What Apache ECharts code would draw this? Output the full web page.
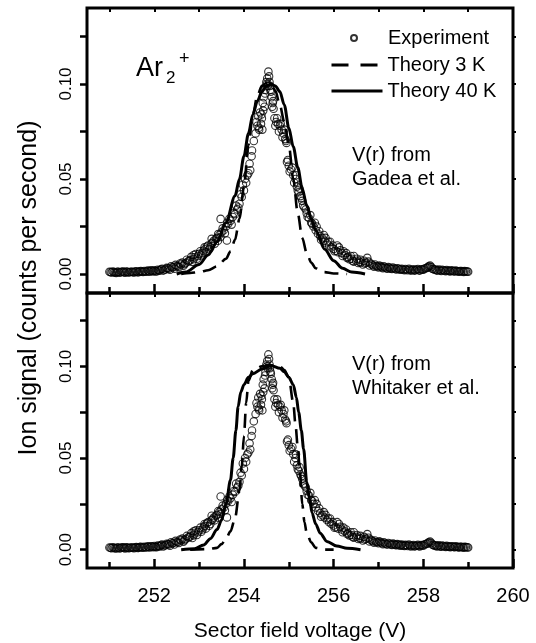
<!DOCTYPE html>
<html>
<head>
<meta charset="utf-8">
<script src="https://cdn.jsdelivr.net/npm/echarts@6/dist/echarts.min.js"></script>
<style>
  html, body { margin: 0; padding: 0; background: #fff; }
  #chart { width: 536px; height: 643px; }
</style>
</head>
<body>
<div id="chart"></div>
<script>
const FONT = '"Liberation Sans", Arial, Helvetica, sans-serif';

// tick positions
const xMajor = [252, 254, 256, 258, 260];
const xMinor = [251, 253, 255, 257, 259];
const xTopTicks = [251, 252, 253, 254, 255, 256, 257, 258, 259];
const yMajor = [0, 0.05, 0.1];
const yTicks = [0, 0.025, 0.05, 0.075, 0.1, 0.125];

// experiment (same data in both panels), first pass
const expV = [
  251.00, 251.05, 251.10, 251.15, 251.20, 251.25, 251.30, 251.35, 251.40, 251.45,
  251.50, 251.55, 251.60, 251.65, 251.70, 251.75, 251.80, 251.85, 251.90, 251.95,
  252.00, 252.05, 252.10, 252.15, 252.20, 252.25, 252.30, 252.35, 252.40, 252.45,
  252.50, 252.55, 252.60, 252.65, 252.70, 252.75, 252.80, 252.85, 252.88, 252.90,
  252.95, 253.00, 253.05, 253.10, 253.12, 253.15, 253.20, 253.25, 253.28, 253.30,
  253.35, 253.40, 253.42, 253.45, 253.48, 253.50, 253.55, 253.60, 253.62, 253.65,
  253.70, 253.75, 253.80, 253.85, 253.90, 253.95, 254.00, 254.05, 254.10, 254.14,
  254.17, 254.18, 254.22, 254.26, 254.30, 254.32, 254.34, 254.36, 254.38, 254.40,
  254.42, 254.44, 254.46, 254.48, 254.50, 254.52, 254.545, 254.56, 254.58, 254.60,
  254.62, 254.64, 254.66, 254.68, 254.72, 254.76, 254.80, 254.84, 254.88, 254.92,
  254.95, 254.96, 255.00, 255.05, 255.10, 255.15, 255.18, 255.22, 255.26, 255.30,
  255.35, 255.40, 255.45, 255.50, 255.55, 255.60, 255.62, 255.65, 255.70, 255.75,
  255.78, 255.80, 255.85, 255.90, 255.92, 255.95, 256.00, 256.05, 256.08, 256.10,
  256.15, 256.20, 256.22, 256.25, 256.30, 256.35, 256.40, 256.45, 256.45, 256.50,
  256.55, 256.60, 256.60, 256.65, 256.70, 256.75, 256.80, 256.85, 256.90, 256.95,
  257.00, 257.05, 257.10, 257.15, 257.20, 257.25, 257.30, 257.35, 257.40, 257.45,
  257.50, 257.55, 257.60, 257.65, 257.70, 257.75, 257.80, 257.85, 257.90, 257.95,
  258.00, 258.05, 258.10, 258.15, 258.20, 258.25, 258.30, 258.35, 258.40, 258.45,
  258.50, 258.55, 258.60, 258.65, 258.70, 258.75, 258.80, 258.85, 258.90, 258.95,
  259.00
];
const expS = [
  0.0012, 0.0008, 0.0010, 0.0006, 0.0012, 0.0009, 0.0013, 0.0007, 0.0011, 0.0009,
  0.0012, 0.0008, 0.0014, 0.0010, 0.0016, 0.0011, 0.0013, 0.0018, 0.0012, 0.0017,
  0.0020, 0.0014, 0.0019, 0.0025, 0.0018, 0.0024, 0.0030, 0.0022, 0.0034, 0.0028,
  0.0042, 0.0036, 0.0050, 0.0044, 0.0058, 0.0066, 0.0072, 0.0064, 0.0100, 0.0088,
  0.0080, 0.0106, 0.0098, 0.0122, 0.0140, 0.0115, 0.0150, 0.0140, 0.0185, 0.0165,
  0.0160, 0.0190, 0.0175, 0.0205, 0.0290, 0.0220, 0.0230, 0.0250, 0.0176, 0.0265,
  0.0280, 0.0300, 0.0315, 0.0340, 0.0370, 0.0405, 0.0440, 0.0480, 0.0530, 0.0546,
  0.0620, 0.0650, 0.0700, 0.0740, 0.0780, 0.0830, 0.0760, 0.0850, 0.0790, 0.0820,
  0.0900, 0.0930, 0.0880, 0.0970, 0.1010, 0.1030, 0.1065, 0.1040, 0.0990, 0.0960,
  0.0930, 0.0900, 0.0870, 0.0820, 0.0800, 0.0790, 0.0780, 0.0760, 0.0740, 0.0710,
  0.0690, 0.0590, 0.0570, 0.0550, 0.0520, 0.0500, 0.0460, 0.0430, 0.0410, 0.0385,
  0.0350, 0.0320, 0.0295, 0.0270, 0.0250, 0.0230, 0.0250, 0.0212, 0.0200, 0.0188,
  0.0205, 0.0175, 0.0162, 0.0150, 0.0170, 0.0140, 0.0132, 0.0122, 0.0150, 0.0115,
  0.0125, 0.0095, 0.0120, 0.0100, 0.0085, 0.0078, 0.0080, 0.0065, 0.0095, 0.0070,
  0.0058, 0.0060, 0.0075, 0.0050, 0.0055, 0.0085, 0.0045, 0.0050, 0.0038, 0.0042,
  0.0035, 0.0040, 0.0030, 0.0034, 0.0028, 0.0032, 0.0026, 0.0030, 0.0024, 0.0028,
  0.0025, 0.0022, 0.0026, 0.0020, 0.0024, 0.0021, 0.0018, 0.0023, 0.0020, 0.0025,
  0.0022, 0.0030, 0.0035, 0.0044, 0.0028, 0.0022, 0.0018, 0.0024, 0.0016, 0.0020,
  0.0015, 0.0018, 0.0014, 0.0017, 0.0013, 0.0016, 0.0012, 0.0015, 0.0011, 0.0014,
  0.0012
];
// experiment, second pass (fills the dense band)
const expV2 = [
  251.025, 251.075, 251.125, 251.175, 251.225, 251.275, 251.325, 251.375, 251.425, 251.475,
  251.525, 251.575, 251.625, 251.675, 251.725, 251.775, 251.825, 251.875, 251.925, 251.975,
  252.025, 252.075, 252.125, 252.175, 252.225, 252.275, 252.325, 252.375, 252.425, 252.475,
  252.525, 252.575, 252.625, 252.675, 252.725, 252.775, 252.825, 252.875, 252.925, 252.975,
  253.025, 253.075, 253.125, 253.175, 253.225, 253.275, 253.325, 253.375, 253.425, 253.475,
  253.525, 253.575, 253.625, 253.675, 253.725, 253.775, 253.825, 253.875, 253.925, 253.975,
  254.025, 254.075, 254.125,
  254.28, 254.33, 254.39, 254.41, 254.43, 254.47, 254.51, 254.53, 254.57, 254.59,
  254.63, 254.65, 254.70, 254.74, 254.78, 254.82, 254.86, 254.90, 254.94, 254.98,
  255.02, 255.08, 255.12, 255.16, 255.20, 255.24, 255.28, 255.32, 255.38, 255.42,
  255.48, 255.52, 255.58, 255.68, 255.72, 255.82, 255.88, 255.98, 256.02, 256.12,
  256.18, 256.28, 256.32, 256.38, 256.42, 256.52, 256.58, 256.68, 256.72, 256.78,
  256.82, 256.88, 256.92, 256.98, 257.02, 257.08, 257.12, 257.18, 257.22, 257.28,
  257.32, 257.38, 257.42, 257.48, 257.52, 257.58, 257.62, 257.68, 257.72, 257.78,
  257.82, 257.88, 257.92, 257.98, 258.02, 258.08, 258.12, 258.18, 258.22, 258.28,
  258.32, 258.38, 258.42, 258.48, 258.52, 258.58, 258.62, 258.68, 258.72, 258.78,
  258.82, 258.88, 258.92, 258.98
];
const expS2 = [
  0.0010, 0.0013, 0.0008, 0.0011, 0.0007, 0.0012, 0.0010, 0.0013, 0.0008, 0.0012,
  0.0010, 0.0013, 0.0009, 0.0014, 0.0012, 0.0016, 0.0012, 0.0015, 0.0019, 0.0014,
  0.0015, 0.0022, 0.0018, 0.0028, 0.0024, 0.0032, 0.0028, 0.0040, 0.0036, 0.0048,
  0.0040, 0.0055, 0.0060, 0.0052, 0.0075, 0.0068, 0.0090, 0.0078, 0.0105, 0.0095,
  0.0120, 0.0110, 0.0130, 0.0145, 0.0130, 0.0160, 0.0175, 0.0185, 0.0210, 0.0195,
  0.0240, 0.0215, 0.0270, 0.0290, 0.0260, 0.0320, 0.0360, 0.0350, 0.0420, 0.0470,
  0.0500, 0.0520, 0.0580,
  0.0800, 0.0770, 0.0840, 0.0760, 0.0860, 0.0950, 0.1000, 0.0990, 0.1010, 0.0970,
  0.0880, 0.0910, 0.0780, 0.0820, 0.0750, 0.0790, 0.0720, 0.0760, 0.0700, 0.0600,
  0.0540, 0.0560, 0.0480, 0.0520, 0.0440, 0.0450, 0.0400, 0.0360, 0.0340, 0.0300,
  0.0310, 0.0265, 0.0270, 0.0225, 0.0180, 0.0190, 0.0170, 0.0150, 0.0120, 0.0140,
  0.0110, 0.0110, 0.0090, 0.0095, 0.0070, 0.0080, 0.0065, 0.0070, 0.0060, 0.0065,
  0.0055, 0.0045, 0.0050, 0.0040, 0.0045, 0.0035, 0.0040, 0.0030, 0.0036, 0.0028,
  0.0034, 0.0026, 0.0030, 0.0022, 0.0028, 0.0020, 0.0024, 0.0028, 0.0018, 0.0025,
  0.0020, 0.0026, 0.0018, 0.0024, 0.0028, 0.0032, 0.0040, 0.0036, 0.0026, 0.0024,
  0.0020, 0.0018, 0.0022, 0.0017, 0.0021, 0.0016, 0.0019, 0.0015, 0.0018, 0.0014,
  0.0016, 0.0013, 0.0015, 0.0013
];

// upper panel: V(r) from Gadea et al.
const gadea3V  = [252.6, 252.8, 253.0, 253.2, 253.4, 253.6, 253.7, 253.8, 253.9, 254.0,
                  254.1, 254.2, 254.3, 254.4, 254.5, 254.6, 254.7, 254.8, 254.9, 255.0,
                  255.1, 255.2, 255.3, 255.4, 255.5, 255.6, 255.8, 256.0, 256.3];
const gadea3S  = [0.0000, 0.0005, 0.0010, 0.0020, 0.0040, 0.0080, 0.0120, 0.0180, 0.0290, 0.0460,
                  0.0680, 0.0840, 0.0940, 0.0990, 0.1005, 0.1000, 0.0965, 0.0890, 0.0800, 0.0680,
                  0.0500, 0.0320, 0.0190, 0.0110, 0.0060, 0.0030, 0.0010, 0.0003, 0.0000];
const gadea40V = [252.5, 252.7, 253.0, 253.2, 253.4, 253.6, 253.8, 253.9, 254.0, 254.1,
                  254.2, 254.3, 254.4, 254.5, 254.6, 254.7, 254.8, 254.9, 255.0, 255.1,
                  255.2, 255.3, 255.4, 255.5, 255.6, 255.8, 256.0, 256.2, 256.4, 256.7];
const gadea40S = [0.0000, 0.0010, 0.0050, 0.0100, 0.0170, 0.0270, 0.0410, 0.0500, 0.0620, 0.0740,
                  0.0840, 0.0910, 0.0960, 0.0990, 0.1000, 0.0990, 0.0960, 0.0890, 0.0770, 0.0670,
                  0.0560, 0.0450, 0.0360, 0.0290, 0.0230, 0.0130, 0.0070, 0.0030, 0.0010, 0.0000];

// lower panel: V(r) from Whitaker et al.
const whit3V  = [252.8, 253.2, 253.4, 253.5, 253.6, 253.7, 253.8, 253.9, 253.95, 254.0,
                 254.05, 254.1, 254.2, 254.4, 254.6, 254.8, 254.9, 255.0, 255.1, 255.15,
                 255.2, 255.25, 255.3, 255.35, 255.4, 255.5, 255.6, 255.8, 256.0];
const whit3S  = [0.0000, 0.0003, 0.0010, 0.0030, 0.0060, 0.0100, 0.0170, 0.0320, 0.0450, 0.0620,
                 0.0800, 0.0920, 0.0980, 0.1000, 0.1005, 0.1000, 0.0980, 0.0940, 0.0800, 0.0680,
                 0.0560, 0.0420, 0.0250, 0.0150, 0.0090, 0.0040, 0.0010, 0.0000, 0.0000];
const whit40V = [252.6, 252.9, 253.1, 253.25, 253.4, 253.5, 253.6, 253.7, 253.76, 253.82,
                 253.87, 253.93, 254.0, 254.1, 254.2, 254.4, 254.6, 254.8, 254.9, 255.0,
                 255.1, 255.17, 255.22, 255.28, 255.33, 255.4, 255.46, 255.52, 255.6, 255.7,
                 255.85, 256.07, 256.3, 256.6];
const whit40S = [0.0000, 0.0005, 0.0025, 0.0060, 0.0110, 0.0160, 0.0250, 0.0380, 0.0500, 0.0650,
                 0.0780, 0.0860, 0.0900, 0.0940, 0.0960, 0.0985, 0.1005, 0.0990, 0.0970, 0.0940,
                 0.0900, 0.0830, 0.0750, 0.0650, 0.0550, 0.0370, 0.0280, 0.0200, 0.0140, 0.0090,
                 0.0045, 0.0020, 0.0008, 0.0000];

const zip = (a, b) => a.map((v, i) => [v, b[i]]);
const expData = zip(expV, expS).concat(zip(expV2, expS2));

const black = '#000';
const tickStyle = { color: black, width: 2.5 };

function xAxes(grid, showLabels) {
  const base = {
    gridIndex: grid, type: 'value', min: 250.5, max: 260,
    axisLine: { show: false, onZero: false }, splitLine: { show: false }
  };
  return [
    Object.assign({}, base, {
      position: 'bottom',
      axisTick: { inside: true, length: 9, customValues: xMajor, lineStyle: tickStyle },
      axisLabel: { show: showLabels, customValues: xMajor, margin: 18, color: black, fontSize: 20, fontFamily: FONT },
      name: showLabels ? 'Sector field voltage (V)' : '',
      nameLocation: 'middle', nameGap: 53,
      nameTextStyle: { color: black, fontSize: 21, fontFamily: FONT }
    }),
    Object.assign({}, base, {
      position: 'bottom',
      axisTick: { inside: true, length: 6, customValues: xMinor, lineStyle: tickStyle },
      axisLabel: { show: false }
    }),
    Object.assign({}, base, {
      position: 'top',
      axisTick: { inside: true, length: 4, customValues: xTopTicks, lineStyle: { color: black, width: 2 } },
      axisLabel: { show: false }
    })
  ];
}

function yAxes(grid) {
  const base = {
    gridIndex: grid, type: 'value', min: -0.01, max: 0.14,
    axisLine: { show: false, onZero: false }, splitLine: { show: false }
  };
  return [
    Object.assign({}, base, {
      position: 'left',
      axisTick: { inside: false, length: 7, customValues: yTicks, lineStyle: tickStyle },
      axisLabel: {
        rotate: 90, margin: 12, customValues: yMajor,
        formatter: v => v.toFixed(2), color: black, fontSize: 17, fontFamily: FONT
      }
    }),
    Object.assign({}, base, {
      position: 'right',
      axisTick: { inside: false, length: 3, customValues: yTicks, lineStyle: { color: black, width: 2 } },
      axisLabel: { show: false }
    })
  ];
}

function panelSeries(grid, t3V, t3S, t40V, t40S) {
  const xi = grid * 3, yi = grid * 2;
  return [
    {
      type: 'line', name: 'Theory 3 K', xAxisIndex: xi, yAxisIndex: yi,
      data: zip(t3V, t3S), symbol: 'none', smooth: 0.3, smoothMonotone: 'x',
      lineStyle: { color: black, width: 2.6, type: [14, 8] }, itemStyle: { color: black }
    },
    {
      type: 'line', name: 'Theory 40 K', xAxisIndex: xi, yAxisIndex: yi,
      data: zip(t40V, t40S), symbol: 'none', smooth: 0.3, smoothMonotone: 'x',
      lineStyle: { color: black, width: 3 }, itemStyle: { color: black }
    },
    {
      type: 'scatter', name: 'Experiment', xAxisIndex: xi, yAxisIndex: yi,
      data: expData, symbol: 'circle', symbolSize: 7.5,
      itemStyle: { color: 'rgba(0,0,0,0)', borderColor: black, borderWidth: 1.1 }
    }
  ];
}

function label(text, x, y, size, extra) {
  return {
    type: 'text', x: x, y: y, rotation: (extra && extra.rotation) || 0,
    style: {
      text: text, fill: black, font: size + 'px ' + FONT,
      textAlign: (extra && extra.align) || 'left', align: (extra && extra.align) || 'left',
      textVerticalAlign: 'middle', verticalAlign: 'middle'
    }
  };
}

const legendText = { color: black, fontSize: 20, fontFamily: FONT };
const hiddenMark = { color: 'rgba(0,0,0,0)', borderColor: 'rgba(0,0,0,0)', borderWidth: 0, opacity: 0 };

const chart = echarts.init(document.getElementById('chart'), null, { renderer: 'canvas' });
chart.setOption({
  animation: false,
  backgroundColor: '#fff',
  grid: [
    { left: 87, top: 8, width: 426, height: 285, show: true, borderColor: black, borderWidth: 3 },
    { left: 87, top: 293, width: 426, height: 284, show: true, borderColor: black, borderWidth: 3 }
  ],
  xAxis: xAxes(0, false).concat(xAxes(1, true)),
  yAxis: yAxes(0).concat(yAxes(1)),
  legend: [
    {
      selectedMode: false, orient: 'vertical', left: 350, top: 28, padding: 0,
      itemWidth: 6, itemHeight: 6, icon: 'circle',
      textStyle: Object.assign({ padding: [0, 0, 0, 26] }, legendText),
      data: ['Experiment']
    },
    {
      selectedMode: false, orient: 'vertical', left: 330, top: 55, padding: 0,
      itemWidth: 51, itemHeight: 14, itemGap: 6, textStyle: legendText,
      data: [
        { name: 'Theory 3 K', lineStyle: { type: [17, 12], width: 3 }, itemStyle: hiddenMark },
        { name: 'Theory 40 K', lineStyle: { width: 3 }, itemStyle: hiddenMark }
      ]
    }
  ],
  graphic: [
    label('Ion signal (counts per second)', 29, 288, 25, { rotation: Math.PI / 2, align: 'center' }),
    label('Ar', 136, 69, 27),
    label('2', 166, 78, 17),
    label('+', 179, 59, 18),
    label('V(r) from', 352, 155, 20),
    label('Gadea et al.', 352, 179, 20),
    label('V(r) from', 352, 364, 20),
    label('Whitaker et al.', 352, 388, 20)
  ],
  series: panelSeries(0, gadea3V, gadea3S, gadea40V, gadea40S)
    .concat(panelSeries(1, whit3V, whit3S, whit40V, whit40S))
});
</script>
</body>
</html>
